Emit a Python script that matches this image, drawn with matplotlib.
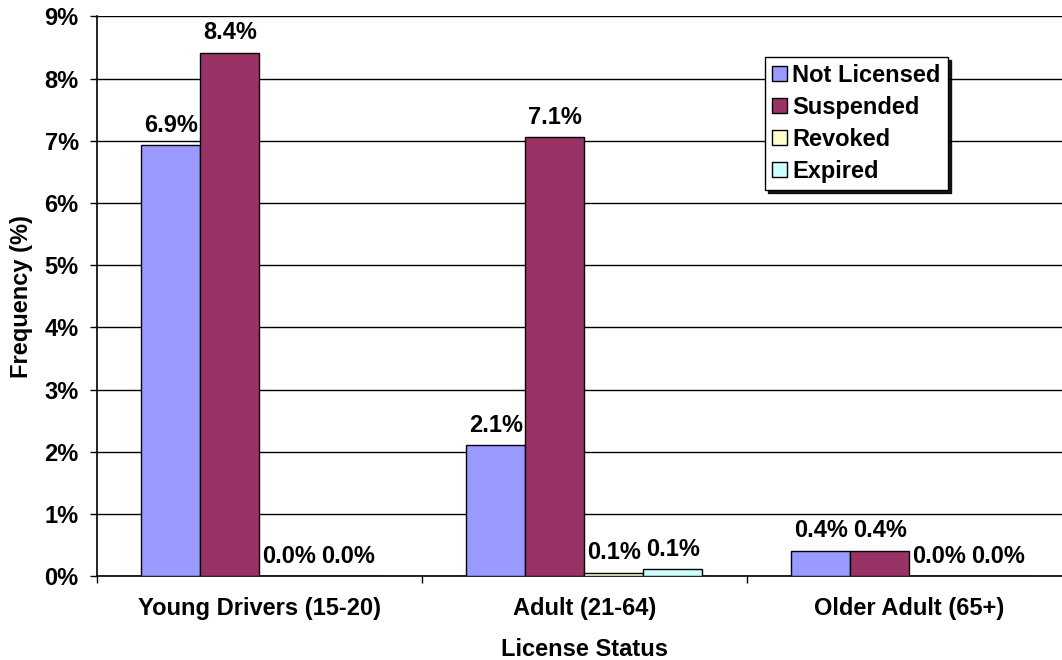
import matplotlib
matplotlib.use('Agg')
import matplotlib.pyplot as plt
import numpy as np

categories = ['Young Drivers (15-20)', 'Adult (21-64)', 'Older Adult (65+)']
series = ['Not Licensed', 'Suspended', 'Revoked', 'Expired']
not_licensed = [6.93, 2.11, 0.41]
suspended = [8.42, 7.06, 0.41]
revoked = [0.0, 0.06, 0.0]
expired = [0.0, 0.12, 0.0]
y_ticks = [0, 1, 2, 3, 4, 5, 6, 7, 8, 9]

colors = ['#9999FF', '#993366', '#FFFFCC', '#CCFFFF']

plt.rcParams['font.family'] = ['Liberation Sans', 'DejaVu Sans']
plt.rcParams['font.weight'] = 'bold'
fs = 17

fig = plt.figure(figsize=(10.62, 6.6), dpi=100)
ax = fig.add_axes([96.7 / 1062, 1 - 576.3 / 660, 975.3 / 1062, 559.8 / 660])

x = np.arange(len(categories))
w = 0.1815
data = [not_licensed, suspended, revoked, expired]
for i, vals in enumerate(data):
    xs = x + (i - 1.5) * w
    bars = ax.bar(xs, vals, w, color=colors[i], edgecolor='black',
                  linewidth=1, label=series[i], zorder=3)
    for b, v in zip(bars, vals):
        ax.annotate('%.1f%%' % v, (b.get_x() + b.get_width() / 2, v),
                    xytext=(0, 6), textcoords='offset points',
                    ha='center', va='bottom', fontsize=fs, fontweight='bold')

ax.set_xlim(-0.5, 2.5)
ax.set_ylim(0, 9)
ax.set_yticks(y_ticks)
ax.set_yticklabels(['%d%%' % t for t in y_ticks], fontsize=fs, fontweight='bold')
ax.yaxis.grid(True, color='black', linewidth=1, zorder=0)
ax.tick_params(axis='y', length=5, width=1, pad=8)

ax.set_xticks(x)
ax.set_xticklabels(categories, fontsize=fs, fontweight='bold')
ax.set_xticks([-0.5, 0.5, 1.5], minor=True)
ax.tick_params(axis='x', which='major', length=0, pad=15)
ax.tick_params(axis='x', which='minor', length=5, width=1)

for s in ['top', 'right']:
    ax.spines[s].set_visible(False)
ax.spines['left'].set_linewidth(1.2)
ax.spines['bottom'].set_linewidth(1.2)

ax.set_xlabel('License Status', fontsize=fs, fontweight='bold', labelpad=13)
ax.set_ylabel('Frequency (%)', fontsize=fs, fontweight='bold', labelpad=8)

leg = ax.legend(loc='upper left', bbox_to_anchor=(0.685, 0.928), fontsize=fs,
                frameon=True, fancybox=False,
                shadow={'color': 'black', 'alpha': 0.9},
                handlelength=0.62, handleheight=0.62, handletextpad=0.25,
                labelspacing=0.38, borderpad=0.3, borderaxespad=0)
leg.get_frame().set_edgecolor('black')
leg.get_frame().set_linewidth(1)
for t in leg.get_texts():
    t.set_fontweight('bold')

fig.savefig('out.png', dpi=100)
